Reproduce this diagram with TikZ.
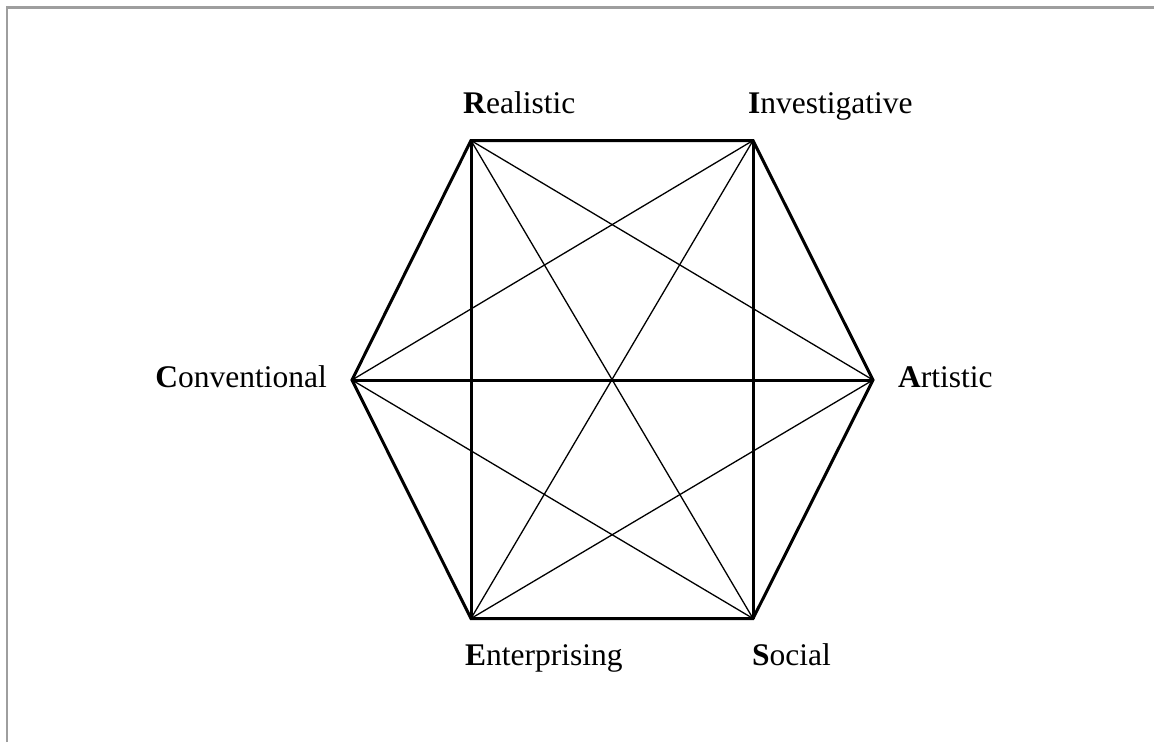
\documentclass[tikz,border=0pt]{standalone}
\usepackage{fontspec}
\setmainfont{Liberation Serif}
\begin{document}
\begin{tikzpicture}[x=1pt,y=-1pt,
  edge/.style={line width=3pt, line join=miter},
  diag/.style={line width=1.3pt},
  lbl/.style={inner sep=0pt, font=\fontsize{31.5}{36}\selectfont},
  frame/.style={draw=black!38, line width=2.6pt}]
\useasboundingbox (0,0) rectangle (1154,742);
\draw[frame] (7,742) -- (7,7.5) -- (1154,7.5);
% vertices
\coordinate (R) at (471,140.5);
\coordinate (I) at (753,140.5);
\coordinate (A) at (873,380);
\coordinate (S) at (753,618.5);
\coordinate (E) at (471,618.5);
\coordinate (C) at (352,380);
% thin diagonals
\draw[diag] (R) -- (A);
\draw[diag] (R) -- (S);
\draw[diag] (I) -- (C);
\draw[diag] (I) -- (E);
\draw[diag] (C) -- (S);
\draw[diag] (E) -- (A);
% thick lines
\draw[edge] (R) -- (E);
\draw[edge] (I) -- (S);
\draw[edge] (C) -- (A);
\draw[edge] (R) -- (I) -- (A) -- (S) -- (E) -- (C) -- cycle;
% labels
\node[lbl, anchor=base west] (lR) at (463,113) {\textbf{R}ealistic};
\node[lbl, anchor=base west] (lI) at (748,113) {\textbf{I}nvestigative};
\node[lbl, anchor=base west] (lA) at (898,387) {\textbf{A}rtistic};
\node[lbl, anchor=base east] (lC) at (327,387) {\textbf{C}onventional};
\node[lbl, anchor=base west] (lE) at (465,665) {\textbf{E}nterprising};
\node[lbl, anchor=base west] (lS) at (752,665) {\textbf{S}ocial};
\end{tikzpicture}
\end{document}
